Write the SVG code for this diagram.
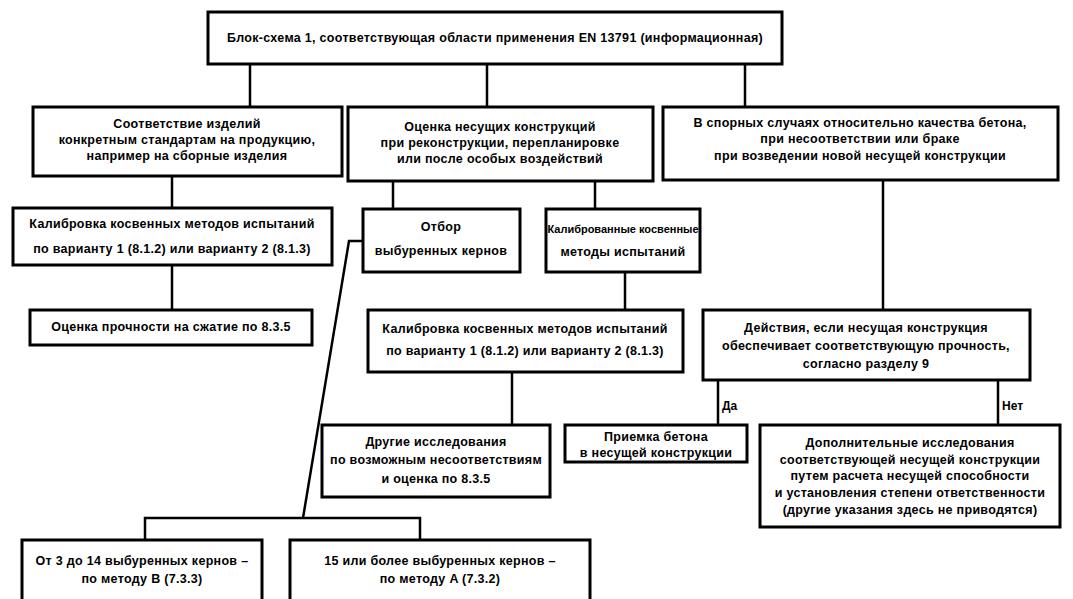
<svg xmlns="http://www.w3.org/2000/svg" width="1073" height="599" viewBox="0 0 1073 599">
<style>
.b{fill:#fff;stroke:#000;stroke-width:3}
.t{font-family:"Liberation Sans",Arial,sans-serif;font-weight:bold;font-size:12.5px;letter-spacing:0.3px;fill:#000;text-anchor:middle}
.s{font-size:11px;letter-spacing:0}
.l{font-family:"Liberation Sans",Arial,sans-serif;font-weight:bold;font-size:12px;fill:#000}
.c{fill:none;stroke:#000;stroke-width:2.5}
</style>
<rect width="1073" height="599" fill="#fff"/>
<g id="connectors">
<path class="c" d="M250,64V107M487,64V107M745,64V107"/>
<path class="c" d="M172,176V208M172,265V310"/>
<path class="c" d="M393,181V209M595,181V209"/>
<path class="c" d="M625,272V310"/>
<path class="c" d="M883,180V310"/>
<path class="c" d="M718,380V425M998,380V425"/>
<path class="c" d="M512,372V425"/>
<path class="c" d="M363,241H349L303,518"/>
<path class="c" d="M145,540V518H420V540"/>
<text class="l" x="722" y="410">Да</text>
<text class="l" x="1002" y="410">Нет</text>
</g>
<g id="n_top">
<rect class="b" x="208" y="12" width="574" height="52"/>
<text class="t" x="495" y="42">Блок-схема 1, соответствующая области применения EN 13791 (информационная)</text>
</g>
<g id="n_a">
<rect class="b" x="33" y="107" width="309" height="69"/>
<text class="t" x="187" y="128">Соответствие изделий</text>
<text class="t" x="187" y="144">конкретным стандартам на продукцию,</text>
<text class="t" x="187" y="160">например на сборные изделия</text>
</g>
<g id="n_b">
<rect class="b" x="348" y="107" width="305" height="74"/>
<text class="t" x="500" y="131">Оценка несущих конструкций</text>
<text class="t" x="500" y="147">при реконструкции, перепланировке</text>
<text class="t" x="500" y="163">или после особых воздействий</text>
</g>
<g id="n_c">
<rect class="b" x="663" y="107" width="395" height="73"/>
<text class="t" x="860" y="127">В спорных случаях относительно качества бетона,</text>
<text class="t" x="860" y="143">при несоответствии или браке</text>
<text class="t" x="860" y="160">при возведении новой несущей конструкции</text>
</g>
<g id="n_d">
<rect class="b" x="13" y="208" width="319" height="57"/>
<text class="t" x="172" y="228">Калибровка косвенных методов испытаний</text>
<text class="t" x="172" y="253">по варианту 1 (8.1.2) или варианту 2 (8.1.3)</text>
</g>
<g id="n_e">
<rect class="b" x="363" y="209" width="157" height="63"/>
<text class="t" x="441" y="231">Отбор</text>
<text class="t" x="441" y="255">выбуренных кернов</text>
</g>
<g id="n_f">
<rect class="b" x="546" y="209" width="154" height="63"/>
<text class="t s" x="623" y="233">Калиброванные косвенные</text>
<text class="t" x="623" y="256">методы испытаний</text>
</g>
<g id="n_g">
<rect class="b" x="30" y="310" width="282" height="35"/>
<text class="t" x="171" y="331">Оценка прочности на сжатие по 8.3.5</text>
</g>
<g id="n_h">
<rect class="b" x="368" y="310" width="315" height="62"/>
<text class="t" x="525" y="333">Калибровка косвенных методов испытаний</text>
<text class="t" x="525" y="355">по варианту 1 (8.1.2) или варианту 2 (8.1.3)</text>
</g>
<g id="n_i">
<rect class="b" x="703" y="310" width="327" height="70"/>
<text class="t" x="866" y="332">Действия, если несущая конструкция</text>
<text class="t" x="866" y="350">обеспечивает соответствующую прочность,</text>
<text class="t" x="866" y="368">согласно разделу 9</text>
</g>
<g id="n_l">
<rect class="b" x="322" y="425" width="228" height="72"/>
<text class="t" x="436" y="446">Другие исследования</text>
<text class="t" x="436" y="464">по возможным несоответствиям</text>
<text class="t" x="436" y="483">и оценка по 8.3.5</text>
</g>
<g id="n_j">
<rect class="b" x="565" y="425" width="182" height="37"/>
<text class="t" x="656" y="441">Приемка бетона</text>
<text class="t" x="656" y="457">в несущей конструкции</text>
</g>
<g id="n_k">
<rect class="b" x="760" y="425" width="300" height="102"/>
<text class="t" x="910" y="447">Дополнительные исследования</text>
<text class="t" x="910" y="464">соответствующей несущей конструкции</text>
<text class="t" x="910" y="480">путем расчета несущей способности</text>
<text class="t" x="910" y="497">и установления степени ответственности</text>
<text class="t" x="910" y="514">(другие указания здесь не приводятся)</text>
</g>
<g id="n_m">
<rect class="b" x="22" y="540" width="240" height="70"/>
<text class="t" x="142" y="565">От 3 до 14 выбуренных кернов –</text>
<text class="t" x="142" y="583">по методу B (7.3.3)</text>
</g>
<g id="n_n">
<rect class="b" x="290" y="540" width="300" height="70"/>
<text class="t" x="440" y="565">15 или более выбуренных кернов –</text>
<text class="t" x="440" y="583">по методу A (7.3.2)</text>
</g>
</svg>
